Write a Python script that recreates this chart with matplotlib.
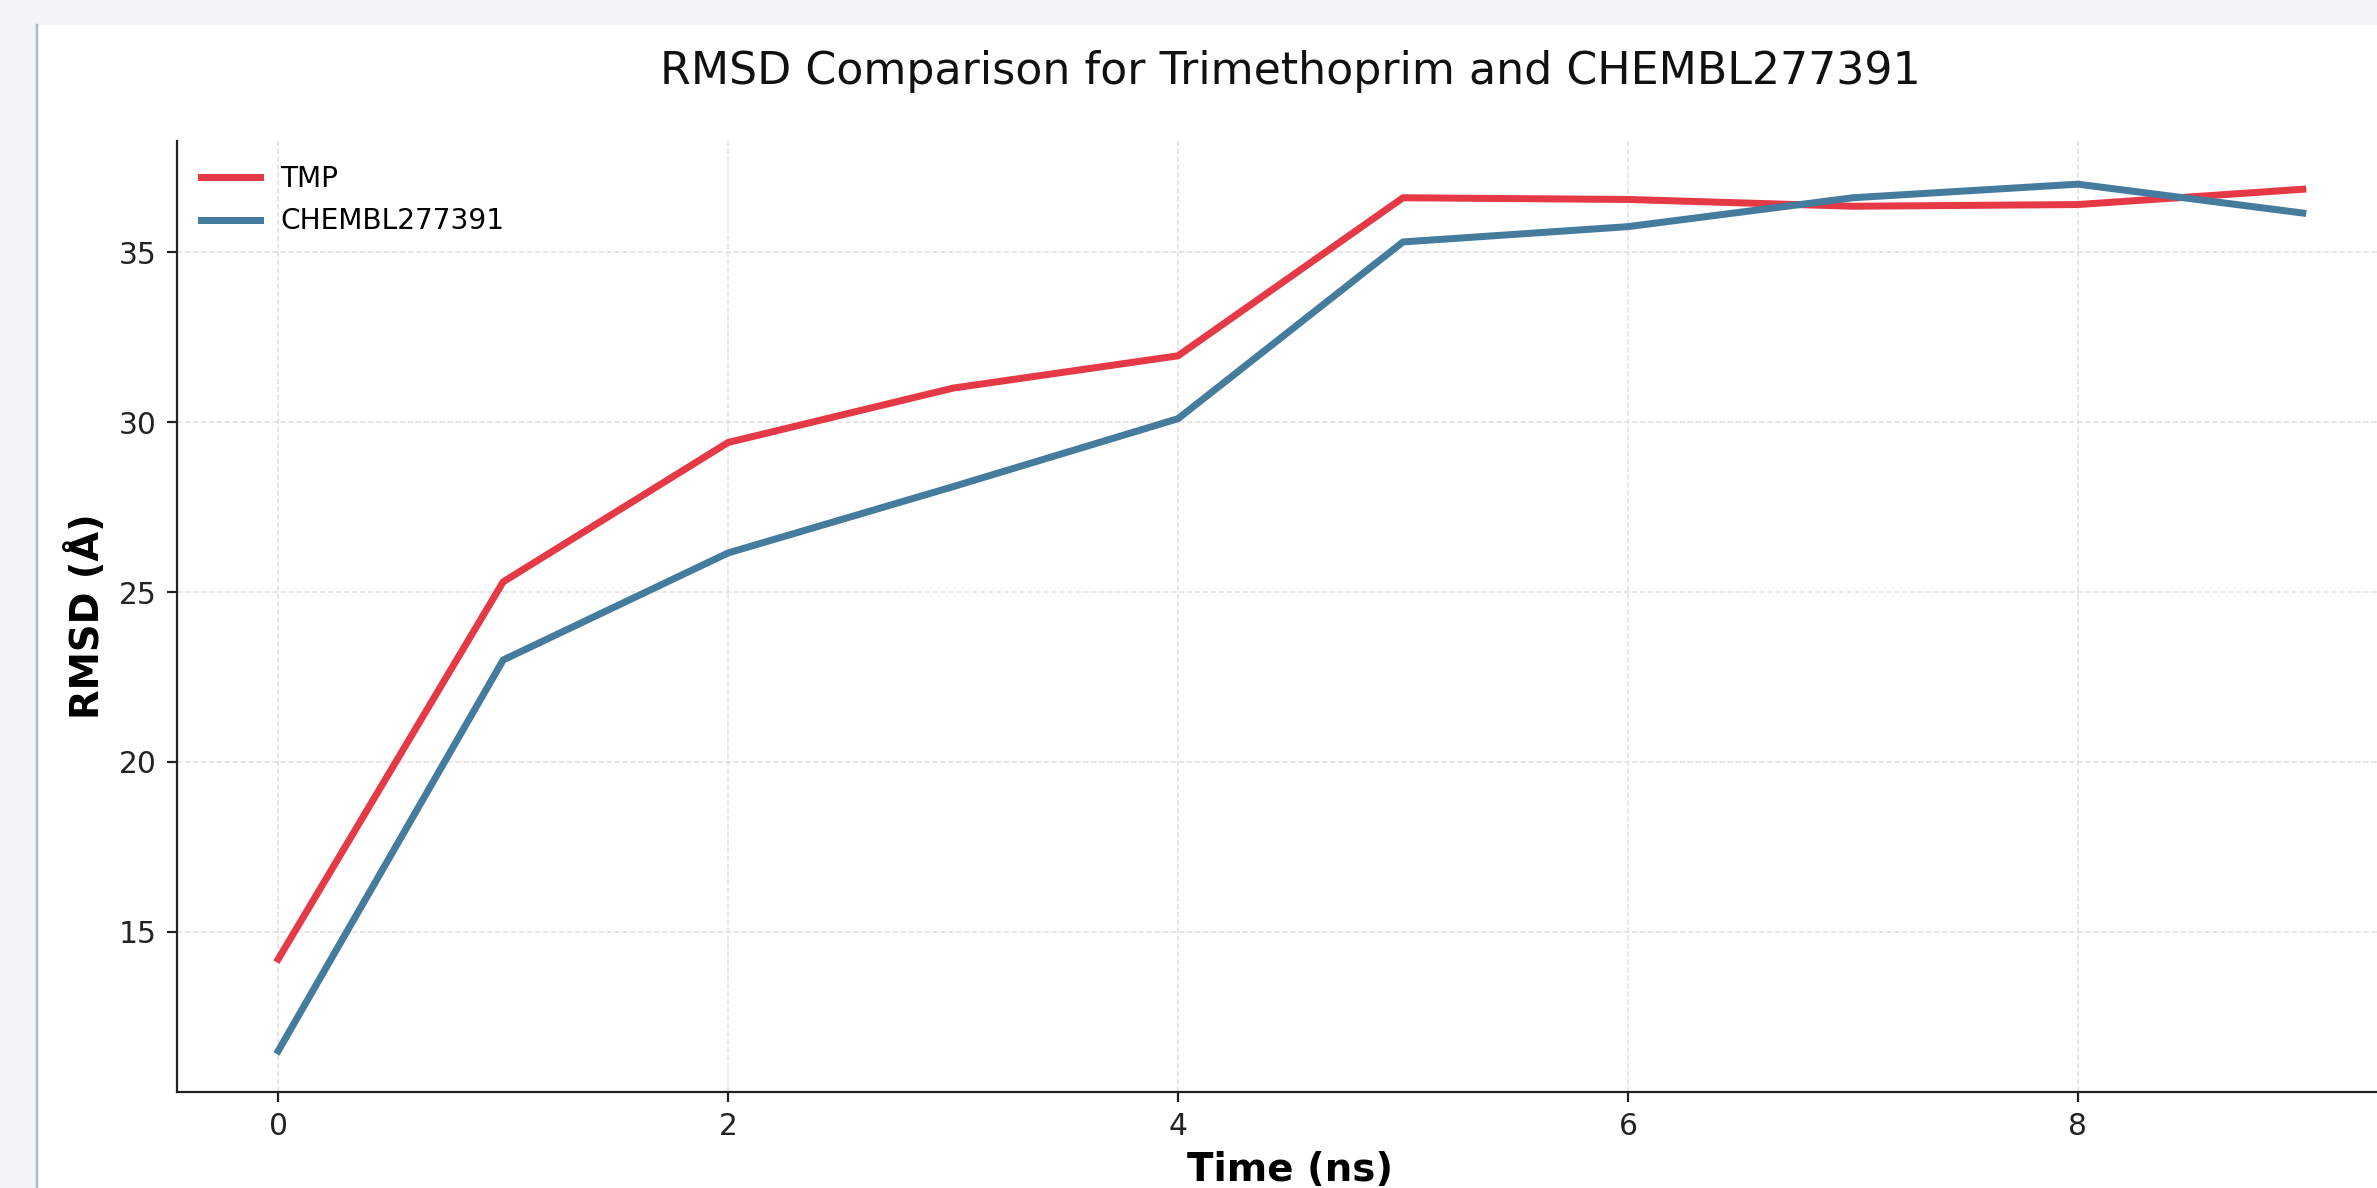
import matplotlib
matplotlib.use("Agg")
import matplotlib.pyplot as plt
from matplotlib.patches import Rectangle
from matplotlib.lines import Line2D

# ---- data ----
time_ns = [0, 1, 2, 3, 4, 5, 6, 7, 8, 9]
tmp_rmsd = [14.2, 25.3, 29.4, 31.0, 31.95, 36.6, 36.55, 36.35, 36.4, 36.85]
chembl_rmsd = [11.5, 23.0, 26.15, 28.1, 30.1, 35.3, 35.75, 36.6, 37.0, 36.15]
series_labels = ["TMP", "CHEMBL277391"]
title_text = "RMSD Comparison for Trimethoprim and CHEMBL277391"
x_label = "Time (ns)"
y_label = "RMSD (Å)"

W, H = 2377, 1188
DPI = 100
PX = 72.0 / DPI  # points per pixel

plt.rcParams['font.family'] = ['DejaVu Sans']
fig = plt.figure(figsize=(W / DPI, H / DPI), dpi=DPI, facecolor='#f1f4f9')

# white card
card = Rectangle((36 / W, 0), 1 - 36 / W, 1 - 25 / H, transform=fig.transFigure,
                 facecolor='white', edgecolor='none', zorder=-10)
fig.add_artist(card)
fig.add_artist(Line2D([37 / W, 37 / W], [0, 1 - 25 / H], transform=fig.transFigure,
                      color='#b5b9be', linewidth=2.5 * PX, zorder=-9))

ax = fig.add_axes([177 / W, (H - 1092) / H, (2404 - 177) / W, (1092 - 141) / H])
ax.set_facecolor('none')
ax.set_zorder(1)

ax.plot(time_ns, tmp_rmsd, color='#e63946', linewidth=7 * PX, label=series_labels[0])
ax.plot(time_ns, chembl_rmsd, color='#457b9d', linewidth=7 * PX, label=series_labels[1])

ax.set_xlim(-0.45, 9.45)
ax.set_ylim(10.29, 38.27)

ax.grid(True, linestyle='--', color='#d9d4d4', linewidth=1.5 * PX, alpha=0.75)
ax.set_axisbelow(True)

for s in ['top', 'right']:
    ax.spines[s].set_visible(False)
for s in ['left', 'bottom']:
    ax.spines[s].set_linewidth(2.2 * PX)
    ax.spines[s].set_color('#222222')

tick_fs = 29.7 * PX
ax.tick_params(axis='both', labelsize=tick_fs, length=10 * PX, width=2.2 * PX,
               pad=10 * PX, colors='#222222')

ax.set_title(title_text, fontsize=44.3 * PX, pad=57 * PX, color='#111111')
ax.set_xlabel(x_label, fontsize=38.7 * PX, fontweight='bold', labelpad=10 * PX)
ax.set_ylabel(y_label, fontsize=38.5 * PX, fontweight='bold', labelpad=12 * PX)

leg = ax.legend(loc='upper left', frameon=False, fontsize=28 * PX, labelspacing=0.52,
                handlelength=2.1, handletextpad=0.75, borderaxespad=0.45, borderpad=0.4)

fig.savefig('out.png', dpi=DPI, facecolor=fig.get_facecolor())
